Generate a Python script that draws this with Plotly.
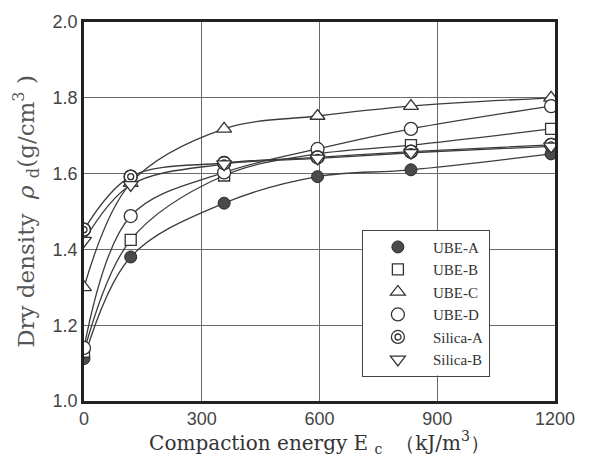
import plotly.graph_objects as go

# Compaction energy (kJ/m^3) at which each specimen was prepared
energy = [0, 119, 357, 595, 833, 1190]

# Dry density (g/cm^3) of each material
ube_a = [1.112, 1.380, 1.522, 1.592, 1.610, 1.652]
ube_b = [1.130, 1.425, 1.595, 1.652, 1.675, 1.718]
ube_c = [1.300, 1.575, 1.718, 1.752, 1.778, 1.800]
ube_d = [1.140, 1.488, 1.603, 1.665, 1.718, 1.778]
silica_a = [1.452, 1.592, 1.628, 1.643, 1.658, 1.676]
silica_b = [1.423, 1.570, 1.625, 1.640, 1.655, 1.672]

x_ticks = [0, 300, 600, 900, 1200]
y_ticks = [1.0, 1.2, 1.4, 1.6, 1.8, 2.0]

ink = "#333"
open_line = dict(color=ink, width=1.3)
series = [
    ("UBE-A", ube_a, dict(symbol="circle", size=12, color="#4a4a4a",
                          line=dict(color="#2a2a2a", width=1))),
    ("UBE-B", ube_b, dict(symbol="square", size=11, color="white", line=open_line)),
    ("UBE-C", ube_c, dict(symbol="triangle-up", size=13, color="white", line=open_line)),
    ("UBE-D", ube_d, dict(symbol="circle", size=13, color="white", line=open_line)),
    ("Silica-A", silica_a, dict(symbol="circle", size=13, color="white", line=open_line)),
    ("Silica-B", silica_b, dict(symbol="triangle-down", size=13, color="white", line=open_line)),
]

line_col = "#3c3c3c"
serif = "Liberation Serif, Times New Roman, serif"
wide_serif = "DejaVu Serif, serif"
sans = "Liberation Sans, Arial, sans-serif"

fig = go.Figure()

# smooth fitted curves through each series
for name, vals, _ in series:
    fig.add_trace(go.Scatter(
        x=energy, y=vals, mode="lines", showlegend=False, hoverinfo="skip",
        line=dict(color=line_col, width=1.3, shape="spline", smoothing=1.0),
    ))

# data markers (drawn on top of the curves)
for name, vals, mk in series:
    double_ring = name == "Silica-A"
    fig.add_trace(go.Scatter(
        x=energy, y=vals, mode="markers", name=name, marker=mk,
        legendgroup=name, showlegend=not double_ring,
    ))
    if double_ring:
        # outer ring (this one carries the legend entry, with a see-through
        # centre) and inner ring of the double-circle symbol
        fig.add_trace(go.Scatter(
            x=energy, y=vals, mode="markers", name=name, legendgroup=name,
            marker=dict(symbol="circle-open", size=13, color=ink, line=dict(width=1.3)),
        ))
        fig.add_trace(go.Scatter(
            x=energy, y=vals, mode="markers", showlegend=False, legendgroup=name,
            marker=dict(symbol="circle-open", size=6, color=ink, line=dict(width=1.3)),
        ))

# legend panel: white backing drawn over the grid, plus the inner ring of
# the Silica-A double-circle symbol (the legend itself is transparent)
legend_x, legend_y = 0.59, 0.452
legend_panel = dict(
    type="rect", xref="paper", yref="paper", layer="above",
    x0=legend_x + 0.002, x1=0.862, y0=0.067, y1=legend_y - 0.002,
    line=dict(width=0), fillcolor="white",
)
legend_ring = dict(
    type="circle", xref="paper", yref="paper", layer="above",
    xsizemode="pixel", ysizemode="pixel",
    xanchor=0.6667, yanchor=0.1688,
    x0=-3, x1=3, y0=-3, y1=3,
    line=dict(color=ink, width=1.3), fillcolor="rgba(0,0,0,0)",
)

fig.update_layout(
    width=595, height=457,
    margin=dict(l=84, r=40, t=16, b=56),
    paper_bgcolor="white", plot_bgcolor="white",
    showlegend=True,
    shapes=[legend_panel, legend_ring],
    legend=dict(
        x=legend_x, y=legend_y, xanchor="left", yanchor="top",
        bordercolor="#444", borderwidth=1, bgcolor="rgba(0,0,0,0)",
        font=dict(family=serif, size=15, color=ink),
        itemwidth=60, tracegroupgap=0, traceorder="grouped",
    ),
    xaxis=dict(
        range=[0, 1200], tickvals=x_ticks, ticktext=[str(v) for v in x_ticks],
        showgrid=True, gridcolor="#6a6a6a", gridwidth=1,
        showline=True, linecolor="#222", linewidth=2.5, mirror=True,
        ticks="", zeroline=False,
        tickfont=dict(family=sans, size=18, color="#444"),
        title=dict(text="Compaction energy E <sub>c</sub>  \uff08kJ/m<sup>3</sup>\uff09",
                   font=dict(family=wide_serif, size=20, color=ink), standoff=0),
    ),
    yaxis=dict(
        range=[1.0, 2.0], tickvals=y_ticks, ticktext=[f"{v:.1f}" for v in y_ticks],
        showgrid=True, gridcolor="#6a6a6a", gridwidth=1,
        showline=True, linecolor="#222", linewidth=2.5, mirror=True,
        ticks="", zeroline=False,
        tickfont=dict(family=sans, size=18, color="#444"),
        title=dict(text="Dry density  <i>\u03c1</i> <sub>d</sub>(g/cm<sup>3</sup> )",
                   font=dict(family=wide_serif, size=23, color="#555"), standoff=12),
    ),
)

fig.write_html("out.html")
